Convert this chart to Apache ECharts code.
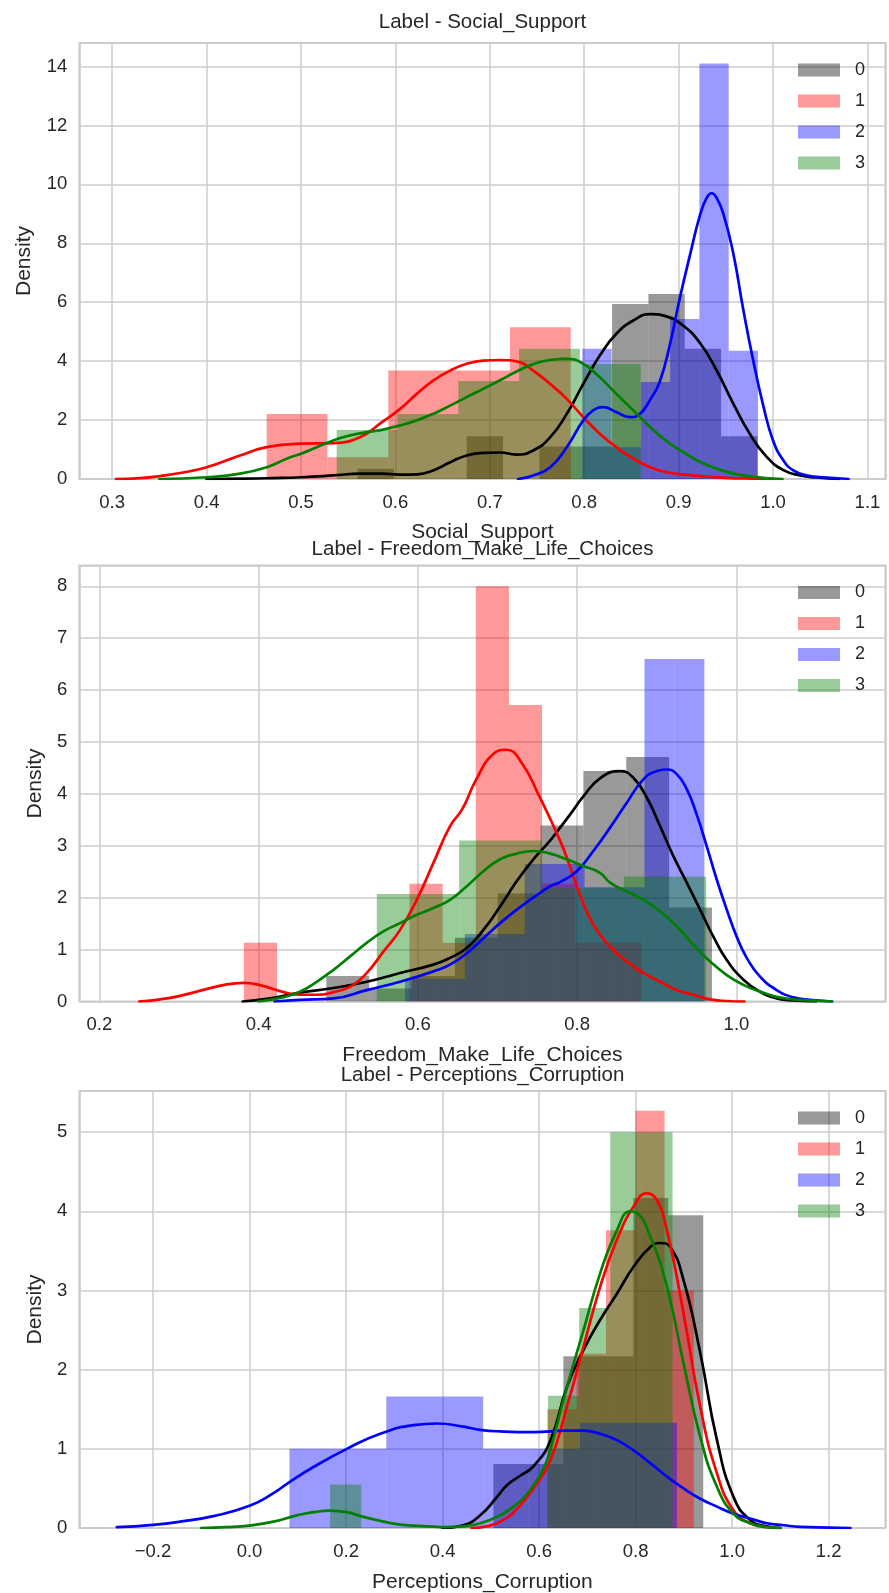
<!DOCTYPE html>
<html><head><meta charset="utf-8">
<script src="https://cdn.jsdelivr.net/npm/echarts/dist/echarts.min.js"></script>
<style>html,body{margin:0;padding:0;background:#fff}#chart{width:889px;height:1593px}</style>
</head><body><div id="chart"></div>
<script>
// ---------- data ----------
const groupNames = ['0', '1', '2', '3'];
const panelTitles = ['Label - Social_Support', 'Label - Freedom_Make_Life_Choices', 'Label - Perceptions_Corruption'];
const panelXNames = ['Social_Support', 'Freedom_Make_Life_Choices', 'Perceptions_Corruption'];

// Panel 1: Social_Support histograms (bin edges, density heights)
const ss_h0_edges = [0.56, 0.5985, 0.637, 0.6755, 0.714, 0.7525, 0.791, 0.8295, 0.868, 0.9065, 0.945, 0.9835];
const ss_h0_vals = [0.35, 0, 0, 1.45, 0, 1.1, 1.1, 5.94, 6.28, 4.42, 1.45];
const ss_h1_edges = [0.4637, 0.5281, 0.5925, 0.6569, 0.7213, 0.7857];
const ss_h1_vals = [2.21, 0.74, 3.68, 3.68, 5.15];
const ss_h2_edges = [0.798, 0.829, 0.860, 0.891, 0.922, 0.953, 0.984];
const ss_h2_vals = [4.42, 1.08, 3.29, 5.43, 14.1, 4.35];
const ss_h3_edges = [0.5378, 0.6022, 0.6666, 0.731, 0.7954, 0.8598];
const ss_h3_vals = [1.66, 2.21, 3.33, 4.42, 3.9];
// Panel 1 KDE curves
const ss_k0_x = [0.40, 0.44, 0.47, 0.5, 0.534, 0.5625, 0.586, 0.605, 0.623, 0.64, 0.658, 0.6755, 0.693, 0.711, 0.728, 0.746, 0.764, 0.7815, 0.799, 0.8165, 0.834, 0.852, 0.87, 0.887, 0.905, 0.923, 0.940, 0.958, 0.976, 0.993, 1.011, 1.029, 1.046, 1.07];
const ss_k0_y = [0, 0.01, 0.03, 0.06, 0.12, 0.18, 0.18, 0.15, 0.16, 0.29, 0.57, 0.80, 0.89, 0.90, 0.83, 0.97, 1.42, 2.21, 3.23, 4.19, 4.93, 5.38, 5.60, 5.52, 5.2, 4.6, 3.7, 2.55, 1.5, 0.76, 0.3, 0.12, 0.05, 0];
const ss_k1_x = [0.304, 0.33, 0.3507, 0.375, 0.4, 0.4355, 0.4637, 0.5, 0.534, 0.5625, 0.5858, 0.605, 0.6226, 0.64, 0.658, 0.6755, 0.693, 0.7108, 0.732, 0.746, 0.7638, 0.7815, 0.799, 0.8165, 0.834, 0.852, 0.87, 0.8874, 0.905, 0.923, 0.95, 0.98, 1.0];
const ss_k1_y = [0, 0.03, 0.1, 0.22, 0.40, 0.80, 1.08, 1.20, 1.22, 1.42, 1.93, 2.38, 2.89, 3.34, 3.68, 3.91, 4.02, 4.04, 3.96, 3.68, 3.23, 2.72, 2.10, 1.54, 1.08, 0.69, 0.40, 0.23, 0.15, 0.10, 0.04, 0.01, 0];
const ss_k2_x = [0.73, 0.746, 0.764, 0.7815, 0.799, 0.8095, 0.8201, 0.834, 0.8485, 0.859, 0.87, 0.88, 0.891, 0.901, 0.912, 0.923, 0.930, 0.935, 0.940, 0.9474, 0.958, 0.968, 0.979, 0.99, 1.0, 1.011, 1.0215, 1.036, 1.057, 1.08];
const ss_k2_y = [0, 0.12, 0.40, 1.08, 1.99, 2.33, 2.44, 2.27, 2.10, 2.21, 2.7, 3.3, 4.6, 6.1, 7.6, 9.0, 9.56, 9.7, 9.56, 9.0, 7.64, 5.83, 4.02, 2.44, 1.31, 0.63, 0.29, 0.12, 0.05, 0];
const ss_k3_x = [0.35, 0.4, 0.4355, 0.4637, 0.4848, 0.5, 0.5166, 0.534, 0.552, 0.5696, 0.5858, 0.605, 0.6226, 0.64, 0.658, 0.6755, 0.693, 0.7108, 0.7284, 0.746, 0.7638, 0.7815, 0.799, 0.8165, 0.834, 0.852, 0.87, 0.8874, 0.905, 0.923, 0.95, 0.98, 1.01];
const ss_k3_y = [0, 0.06, 0.18, 0.40, 0.69, 0.86, 1.08, 1.31, 1.48, 1.59, 1.67, 1.82, 1.99, 2.21, 2.49, 2.78, 3.06, 3.35, 3.65, 3.9, 4.04, 4.08, 3.91, 3.45, 2.89, 2.33, 1.76, 1.28, 0.91, 0.58, 0.25, 0.07, 0];

// Panel 2: Freedom_Make_Life_Choices histograms
const fm_h0_edges = [0.485, 0.5388, 0.5926, 0.6464, 0.7002, 0.754, 0.8078, 0.8616, 0.9154, 0.9692];
const fm_h0_vals = [0.49, 0.25, 0.49, 1.23, 2.08, 3.39, 4.44, 4.71, 1.81];
const fm_h1_edges = [0.3815, 0.4231, 0.4647, 0.5063, 0.5479, 0.5895, 0.6311, 0.6727, 0.7143, 0.7559, 0.7975, 0.8391, 0.8807];
const fm_h1_vals = [1.13, 0, 0, 0, 0, 2.27, 1.13, 8.0, 5.71, 2.27, 1.13, 1.13];
const fm_h2_edges = [0.5837, 0.6213, 0.6589, 0.6965, 0.7341, 0.7717, 0.8093, 0.8469, 0.8845, 0.9221, 0.9597];
const fm_h2_vals = [0.44, 0.44, 1.3, 1.3, 2.65, 2.65, 2.2, 2.2, 6.6, 6.6];
const fm_h3_edges = [0.5484, 0.6518, 0.7552, 0.8586, 0.962];
const fm_h3_vals = [2.07, 3.10, 2.19, 2.41];
// Panel 2 KDE curves
const fm_k0_x = [0.38, 0.41, 0.452, 0.494, 0.5358, 0.5777, 0.6195, 0.6404, 0.6614, 0.6823, 0.7032, 0.7242, 0.745, 0.766, 0.7785, 0.791, 0.8078, 0.8287, 0.8538, 0.8705, 0.8874, 0.904, 0.9208, 0.9376, 0.9543, 0.971, 0.9878, 1.0087, 1.0296, 1.0505, 1.0714, 1.10];
const fm_k0_y = [0, 0.05, 0.17, 0.26, 0.38, 0.55, 0.71, 0.84, 1.03, 1.38, 1.83, 2.32, 2.74, 3.1, 3.35, 3.6, 3.95, 4.3, 4.44, 4.31, 3.93, 3.38, 2.80, 2.29, 1.77, 1.25, 0.80, 0.42, 0.19, 0.06, 0.02, 0];
const fm_k1_x = [0.25, 0.289, 0.3246, 0.36, 0.3815, 0.403, 0.4313, 0.452, 0.475, 0.494, 0.5168, 0.5358, 0.5567, 0.5777, 0.5986, 0.6195, 0.6404, 0.6555, 0.6733, 0.6947, 0.711, 0.7302, 0.7516, 0.7785, 0.791, 0.8036, 0.8203, 0.8413, 0.8623, 0.8831, 0.904, 0.925, 0.946, 0.9669, 0.9878, 1.01];
const fm_k1_y = [0, 0.07, 0.2, 0.33, 0.36, 0.31, 0.18, 0.13, 0.13, 0.18, 0.3, 0.55, 0.96, 1.38, 1.96, 2.67, 3.38, 3.7, 4.28, 4.77, 4.85, 4.6, 3.98, 3.1, 2.6, 2.05, 1.48, 1.06, 0.77, 0.55, 0.38, 0.22, 0.13, 0.04, 0.01, 0];
const fm_k2_x = [0.42, 0.452, 0.494, 0.5358, 0.5777, 0.6195, 0.6404, 0.6614, 0.6823, 0.7032, 0.7242, 0.745, 0.766, 0.7785, 0.7995, 0.8203, 0.8413, 0.8623, 0.8831, 0.9, 0.9125, 0.925, 0.9376, 0.9501, 0.9627, 0.9752, 0.9878, 1.0003, 1.0129, 1.0296, 1.0505, 1.0714, 1.0924, 1.12];
const fm_k2_y = [0, 0.03, 0.06, 0.22, 0.38, 0.58, 0.71, 0.93, 1.22, 1.51, 1.77, 2.0, 2.22, 2.3, 2.51, 2.9, 3.35, 3.83, 4.28, 4.44, 4.47, 4.38, 4.09, 3.6, 2.99, 2.35, 1.77, 1.25, 0.84, 0.48, 0.22, 0.08, 0.03, 0];
const fm_k3_x = [0.40, 0.43, 0.452, 0.473, 0.494, 0.5149, 0.5358, 0.5567, 0.5777, 0.5986, 0.6195, 0.6404, 0.6614, 0.6823, 0.7032, 0.7242, 0.745, 0.766, 0.787, 0.8078, 0.8287, 0.8413, 0.8623, 0.8831, 0.904, 0.925, 0.946, 0.9669, 0.9878, 1.0087, 1.0296, 1.0505, 1.0714, 1.0924, 1.12];
const fm_k3_y = [0, 0.08, 0.19, 0.38, 0.61, 0.87, 1.13, 1.35, 1.51, 1.67, 1.80, 1.96, 2.22, 2.51, 2.74, 2.85, 2.9, 2.85, 2.74, 2.61, 2.48, 2.29, 2.12, 1.96, 1.74, 1.45, 1.09, 0.77, 0.51, 0.32, 0.19, 0.09, 0.04, 0.02, 0];

// Panel 3: Perceptions_Corruption histograms
const pc_h0_edges = [0.5053, 0.5778, 0.6502, 0.7227, 0.7952, 0.8676, 0.9401];
const pc_h0_vals = [0.81, 0.81, 2.17, 2.17, 4.17, 3.95];
const pc_h1_edges = [0.6171, 0.6778, 0.7385, 0.7992, 0.86, 0.9206];
const pc_h1_vals = [1.5, 2.2, 3.76, 5.27, 3.0];
const pc_h2_edges = [0.0827, 0.2834, 0.4841, 0.6848, 0.8855];
const pc_h2_vals = [1.0, 1.66, 1.0, 1.33];
const pc_h3_edges = [0.167, 0.2315, 0.296, 0.3605, 0.425, 0.4895, 0.554, 0.6185, 0.683, 0.7475, 0.812, 0.8765];
const pc_h3_vals = [0.55, 0, 0, 0, 0, 0, 0, 1.67, 2.78, 5.0, 5.0];
// Panel 3 KDE curves
const pc_k0_x = [0.40, 0.443, 0.478, 0.5125, 0.5333, 0.5609, 0.5884, 0.623, 0.6576, 0.692, 0.7266, 0.7612, 0.7957, 0.8303, 0.851, 0.8717, 0.8993, 0.9339, 0.9685, 1.003, 1.0375, 1.072, 1.1];
const pc_k0_y = [0, 0.035, 0.16, 0.39, 0.54, 0.66, 0.78, 1.1, 1.78, 2.25, 2.63, 2.96, 3.30, 3.55, 3.60, 3.55, 3.13, 2.21, 1.11, 0.39, 0.10, 0.02, 0];
const pc_k1_x = [0.46, 0.49, 0.52, 0.554, 0.5884, 0.623, 0.6576, 0.692, 0.7266, 0.7612, 0.7957, 0.8234, 0.8441, 0.8648, 0.8993, 0.9339, 0.9685, 1.003, 1.0375, 1.072, 1.1];
const pc_k1_y = [0, 0.02, 0.08, 0.24, 0.5, 0.85, 1.53, 2.29, 3.05, 3.64, 4.06, 4.23, 4.14, 3.76, 2.71, 1.53, 0.69, 0.22, 0.06, 0.01, 0];
const pc_k2_x = [-0.275, -0.2, -0.1438, -0.0748, 0.0, 0.0496, 0.0827, 0.1325, 0.2016, 0.2707, 0.3397, 0.388, 0.4433, 0.478, 0.52, 0.5884, 0.6576, 0.692, 0.7266, 0.7612, 0.7957, 0.8303, 0.8648, 0.8993, 0.9339, 0.9685, 1.003, 1.0375, 1.0721, 1.1066, 1.141, 1.2, 1.245];
const pc_k2_y = [0.01, 0.04, 0.08, 0.15, 0.28, 0.44, 0.58, 0.77, 1.0, 1.19, 1.30, 1.32, 1.28, 1.24, 1.22, 1.21, 1.23, 1.23, 1.19, 1.11, 0.98, 0.82, 0.65, 0.50, 0.37, 0.27, 0.18, 0.12, 0.06, 0.035, 0.014, 0.005, 0];
const pc_k3_x = [-0.1, -0.05, 0.0, 0.0496, 0.098, 0.1325, 0.167, 0.2016, 0.236, 0.2707, 0.3053, 0.34, 0.374, 0.409, 0.443, 0.478, 0.5125, 0.547, 0.5816, 0.609, 0.623, 0.6576, 0.692, 0.7266, 0.7612, 0.7888, 0.8027, 0.8303, 0.8648, 0.8993, 0.9339, 0.9685, 1.003, 1.0375, 1.072, 1.1];
const pc_k3_y = [0, 0.01, 0.03, 0.08, 0.16, 0.20, 0.22, 0.20, 0.14, 0.09, 0.05, 0.03, 0.02, 0.01, 0.02, 0.06, 0.14, 0.27, 0.48, 0.75, 0.98, 1.78, 2.5, 3.22, 3.76, 4.0, 3.98, 3.68, 3.05, 2.08, 1.15, 0.52, 0.18, 0.06, 0.01, 0];

// Axis ranges and tick labels
const xMins = [0.2653, 0.175, -0.3525];
const xMaxs = [1.119, 1.187, 1.3175];
const yMaxs = [14.8, 8.4, 5.52];
const yIntervals = [2, 1, 1];
const xSplits = [8, 5, 8];

// ---------- build ----------
const lineColors = ['#000000', '#ff0000', '#0000ff', '#008000'];
const barColors = ['rgba(0,0,0,0.4)', 'rgba(255,0,0,0.4)', 'rgba(0,0,255,0.4)', 'rgba(0,128,0,0.4)'];
const hists = [
  [[ss_h0_edges, ss_h0_vals], [ss_h1_edges, ss_h1_vals], [ss_h2_edges, ss_h2_vals], [ss_h3_edges, ss_h3_vals]],
  [[fm_h0_edges, fm_h0_vals], [fm_h1_edges, fm_h1_vals], [fm_h2_edges, fm_h2_vals], [fm_h3_edges, fm_h3_vals]],
  [[pc_h0_edges, pc_h0_vals], [pc_h1_edges, pc_h1_vals], [pc_h2_edges, pc_h2_vals], [pc_h3_edges, pc_h3_vals]]
];
const kdes = [
  [[ss_k0_x, ss_k0_y], [ss_k1_x, ss_k1_y], [ss_k2_x, ss_k2_y], [ss_k3_x, ss_k3_y]],
  [[fm_k0_x, fm_k0_y], [fm_k1_x, fm_k1_y], [fm_k2_x, fm_k2_y], [fm_k3_x, fm_k3_y]],
  [[pc_k0_x, pc_k0_y], [pc_k1_x, pc_k1_y], [pc_k2_x, pc_k2_y], [pc_k3_x, pc_k3_y]]
];

const FONT = '"Liberation Sans", Arial, sans-serif';
const TXT = '#262626';
const gridTops = [43, 565.5, 1091];
const gridHeights = [436, 436, 437];
const titleTops = [12, 539, 1064.5];
const yNameGaps = [45, 34, 34];
const xNameGaps = [43, 43, 44];

function histRows(edges, vals) {
  const rows = [];
  for (let i = 0; i < vals.length; i++) if (vals[i] > 0) rows.push([edges[i], edges[i + 1], vals[i]]);
  return rows;
}
function renderHist(params, api) {
  const p0 = api.coord([api.value(0), api.value(2)]);
  const p1 = api.coord([api.value(1), 0]);
  return {
    type: 'rect',
    shape: { x: p0[0], y: p0[1], width: p1[0] - p0[0], height: p1[1] - p0[1] },
    style: { fill: api.visual('color') }
  };
}
function fmtX(v) {
  const s = Math.abs(v).toFixed(1);
  return v < -1e-9 ? '\u2212' + s : s;
}

const grid = [], xAxis = [], yAxis = [], series = [], title = [], legend = [];
for (let p = 0; p < 3; p++) {
  grid.push({ left: 79.4, width: 806, top: gridTops[p], height: gridHeights[p], show: true,
    borderColor: '#cccccc', borderWidth: 2, backgroundColor: '#ffffff', containLabel: false, outerBoundsMode: 'none' });
  xAxis.push({ type: 'value', gridIndex: p, min: xMins[p], max: xMaxs[p], splitNumber: xSplits[p],
    name: panelXNames[p], nameLocation: 'middle', nameGap: xNameGaps[p],
    nameTextStyle: { fontFamily: FONT, fontSize: 21, color: TXT },
    axisLine: { show: false }, axisTick: { show: false },
    axisLabel: { formatter: fmtX, fontFamily: FONT, fontSize: 18.5, color: TXT, margin: 14, showMinLabel: false, showMaxLabel: false },
    splitLine: { show: true, lineStyle: { color: '#cccccc', width: 1.5 } } });
  yAxis.push({ type: 'value', gridIndex: p, min: 0, max: yMaxs[p], interval: yIntervals[p],
    name: 'Density', nameLocation: 'middle', nameGap: yNameGaps[p],
    nameTextStyle: { fontFamily: FONT, fontSize: 21, color: TXT },
    axisLine: { show: false }, axisTick: { show: false },
    axisLabel: { formatter: v => String(Math.round(v)), fontFamily: FONT, fontSize: 18.5, color: TXT, margin: 12, showMaxLabel: false },
    splitLine: { show: true, lineStyle: { color: '#cccccc', width: 1.5 } } });
  title.push({ text: panelTitles[p], left: 482.5, textAlign: 'center', top: titleTops[p], padding: 0,
    textStyle: { fontFamily: FONT, fontSize: 20.5, fontWeight: 'normal', color: TXT } });
  legend.push({ orient: 'vertical', left: 798, top: gridTops[p] + 17, padding: 0, itemWidth: 42, itemHeight: 13, itemGap: 11,
    icon: 'rect', selectedMode: false, data: groupNames,
    textStyle: { fontFamily: FONT, fontSize: 18, color: TXT, lineHeight: 20, padding: [0, 0, 0, 10] } });
  for (let g = 0; g < 4; g++) {
    const [e, v] = hists[p][g];
    series.push({ type: 'custom', name: groupNames[g], xAxisIndex: p, yAxisIndex: p, renderItem: renderHist,
      encode: { x: [0, 1], y: 2 }, data: histRows(e, v), itemStyle: { color: barColors[g] }, z: 2, clip: true, silent: true });
  }
  for (let g = 0; g < 4; g++) {
    const [xs, ys] = kdes[p][g];
    series.push({ type: 'line', name: 'kde_' + p + '_' + g, xAxisIndex: p, yAxisIndex: p,
      data: xs.map((x, i) => [x, ys[i]]), smooth: 0.5, showSymbol: false, symbol: 'none',
      lineStyle: { color: lineColors[g], width: 2.7, cap: 'round', join: 'round' }, itemStyle: { color: lineColors[g] }, z: 3, silent: true, clip: true });
  }
}

const chart = echarts.init(document.getElementById('chart'), null, { renderer: 'canvas' });
chart.setOption({ animation: false, backgroundColor: '#ffffff', title, legend, grid, xAxis, yAxis, series });
</script></body></html>
